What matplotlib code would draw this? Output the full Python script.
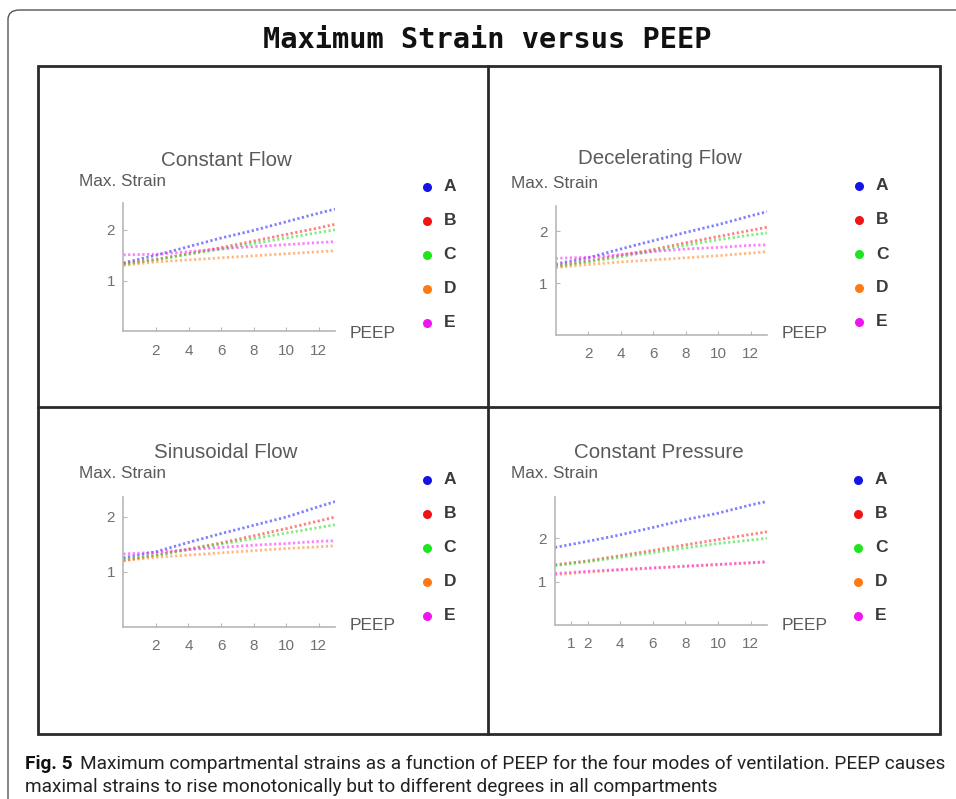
import matplotlib
matplotlib.use("Agg")
import matplotlib.pyplot as plt
from matplotlib.patches import FancyBboxPatch, Rectangle
from matplotlib.lines import Line2D

peep = [0, 2, 4, 6, 8, 10, 12, 13]
compartments = ['A', 'B', 'C', 'D', 'E']
colours = ['#2a2aff', '#ff2a2a', '#2ee02e', '#ff8a2a', '#ff2aff']
dot_colours = ['#1414e6', '#f01414', '#1ee61e', '#ff7a14', '#f014f0']

# Constant flow
cf_A = [1.35, 1.50, 1.67, 1.84, 1.99, 2.16, 2.33, 2.41]
cf_B = [1.33, 1.42, 1.53, 1.65, 1.78, 1.91, 2.04, 2.11]
cf_C = [1.32, 1.41, 1.52, 1.62, 1.73, 1.84, 1.95, 2.00]
cf_D = [1.30, 1.37, 1.41, 1.45, 1.49, 1.53, 1.57, 1.59]
cf_E = [1.51, 1.52, 1.57, 1.63, 1.67, 1.71, 1.75, 1.77]

# Decelerating flow
df_A = [1.37, 1.49, 1.66, 1.82, 1.98, 2.13, 2.30, 2.38]
df_B = [1.33, 1.43, 1.54, 1.65, 1.78, 1.90, 2.02, 2.08]
df_C = [1.32, 1.41, 1.51, 1.62, 1.73, 1.84, 1.93, 1.97]
df_D = [1.30, 1.36, 1.41, 1.45, 1.49, 1.53, 1.58, 1.61]
df_E = [1.48, 1.50, 1.55, 1.61, 1.66, 1.69, 1.73, 1.74]

# Sinusoidal flow
sf_A = [1.25, 1.36, 1.53, 1.69, 1.84, 1.99, 2.18, 2.27]
sf_B = [1.20, 1.30, 1.41, 1.52, 1.65, 1.78, 1.92, 1.99]
sf_C = [1.22, 1.29, 1.40, 1.50, 1.60, 1.70, 1.80, 1.85]
sf_D = [1.20, 1.26, 1.30, 1.34, 1.38, 1.42, 1.45, 1.47]
sf_E = [1.32, 1.35, 1.40, 1.44, 1.48, 1.51, 1.55, 1.56]

# Constant pressure
cp_A = [1.79, 1.93, 2.08, 2.25, 2.43, 2.58, 2.77, 2.85]
cp_B = [1.39, 1.48, 1.60, 1.72, 1.85, 1.97, 2.09, 2.15]
cp_C = [1.37, 1.46, 1.56, 1.67, 1.78, 1.88, 1.96, 2.00]
cp_D = [1.16, 1.22, 1.27, 1.31, 1.35, 1.39, 1.43, 1.45]
cp_E = [1.19, 1.24, 1.28, 1.32, 1.36, 1.40, 1.44, 1.46]

titles = ['Constant Flow', 'Decelerating Flow', 'Sinusoidal Flow', 'Constant Pressure']
series = [[cf_A, cf_B, cf_C, cf_D, cf_E],
          [df_A, df_B, df_C, df_D, df_E],
          [sf_A, sf_B, sf_C, sf_D, sf_E],
          [cp_A, cp_B, cp_C, cp_D, cp_E]]
xticks = [[2, 4, 6, 8, 10, 12]] * 3 + [[1, 2, 4, 6, 8, 10, 12]]
ylims = [(0, 2.53), (0, 2.48), (0, 2.36), (0, 2.96)]

W, H = 956, 799
def fx(px):
    return px / W
def fy(py):
    return 1 - py / H

# layout per panel, in pixels: axes box (left, right, bottom, top), title centre,
# y label, x label, legend column x and first row y
layout = [
    dict(box=(123.4, 335, 331.4, 203), title=(226, 160), ylab=(79, 182), xlab=(350, 333), leg=(426.5, 186.5)),
    dict(box=(555.6, 767, 335, 206.5), title=(660, 158), ylab=(511, 183), xlab=(782, 334), leg=(859, 186)),
    dict(box=(123.3, 335, 626.7, 496.7), title=(226, 453), ylab=(79, 473), xlab=(350, 625), leg=(426.5, 479.5)),
    dict(box=(555.0, 767, 625, 496.7), title=(659, 453), ylab=(511, 473), xlab=(782, 625), leg=(858, 479.5)),
]

fig = plt.figure(figsize=(9.56, 7.99), dpi=100)
fig.patch.set_facecolor('white')

txt_col = '#5a5a5a'
font = ['Liberation Sans', 'DejaVu Sans']

for i in range(4):
    lay = layout[i]
    l, r, b, t = lay['box']
    ax = fig.add_axes([fx(l), fy(b), fx(r) - fx(l), (b - t) / H])
    order = [0, 1, 2, 4, 3] if i < 3 else [0, 1, 2, 3, 4]
    for k in order:
        ax.plot(peep, series[i][k], color=colours[k], ls=(0, (0.8, 0.9)),
                lw=2.0, alpha=0.6, solid_capstyle='butt')
    ax.set_xlim(0, 13)
    ax.set_ylim(*ylims[i])
    ax.set_xticks(xticks[i])
    ax.set_yticks([1, 2])
    for s in ['top', 'right']:
        ax.spines[s].set_visible(False)
    for s in ['left', 'bottom']:
        ax.spines[s].set_color('#b8b8b8')
        ax.spines[s].set_linewidth(1.2)
    ax.tick_params(axis='x', direction='in', length=3, color='#b8b8b8',
                   labelcolor='#707070', labelsize=11, pad=9)
    ax.tick_params(axis='y', direction='in', length=3, color='#b8b8b8',
                   labelcolor='#707070', labelsize=11, pad=6)
    for lab in ax.get_xticklabels() + ax.get_yticklabels():
        lab.set_family(font)
    ax.patch.set_alpha(0)

    tx, ty = lay['title']
    fig.text(fx(tx), fy(ty), titles[i], ha='center', va='center',
             fontsize=14.8, color=txt_col, family=font)
    yx, yy = lay['ylab']
    fig.text(fx(yx), fy(yy), 'Max. Strain', ha='left', va='center',
             fontsize=12.3, color=txt_col, family=font)
    px_, py_ = lay['xlab']
    fig.text(fx(px_), fy(py_), 'PEEP', ha='left', va='center',
             fontsize=12.5, color=txt_col, family=font)

    lx, ly = lay['leg']
    for k, name in enumerate(compartments):
        yk = ly + k * 34
        fig.add_artist(Line2D([fx(lx)], [fy(yk)], marker='o', ms=6.5,
                              color=dot_colours[k], mec='none',
                              transform=fig.transFigure))
        fig.text(fx(lx + 17), fy(yk), name, ha='left', va='center',
                 fontsize=12.5, fontweight='bold', color='#3a3a3a', family=font)

# outer rounded frame (runs off the right and bottom edges)
frame = FancyBboxPatch((fx(8), fy(820)), fx(990) - fx(8), fy(10) - fy(820),
                       boxstyle='round,pad=0,rounding_size=0.012',
                       transform=fig.transFigure, fill=False,
                       ec='#555555', lw=1.0)
fig.add_artist(frame)

# panel grid
fig.add_artist(Rectangle((fx(38), fy(734)), fx(940) - fx(38), fy(66) - fy(734),
                         transform=fig.transFigure, fill=False, ec='#2a2a2a', lw=2.0))
fig.add_artist(Line2D([fx(487.7), fx(487.7)], [fy(66), fy(734)],
                      transform=fig.transFigure, color='#2a2a2a', lw=2.0))
fig.add_artist(Line2D([fx(38), fx(940)], [fy(406.7), fy(406.7)],
                      transform=fig.transFigure, color='#2a2a2a', lw=2.0))

fig.text(fx(487), fy(40), 'Maximum Strain versus PEEP', ha='center', va='center',
         fontsize=20.6, fontweight='bold', family=['DejaVu Sans Mono'], color='#111111')

# caption
cap_font = ['Roboto', 'Open Sans', 'DejaVu Sans']
fig.canvas.draw()
renderer = fig.canvas.get_renderer()
t1 = fig.text(fx(25), fy(764), 'Fig. 5', ha='left', va='center', fontsize=12.5,
              fontweight='bold', family=cap_font, color='#111111')
t2 = fig.text(0, fy(764),
              'Maximum compartmental strains as a function of PEEP for the four modes of ventilation. PEEP causes',
              ha='left', va='center', fontsize=12.5, family=cap_font, color='#222222')
# squeeze the caption so the first line ends where the reference does
size = 12.5
for _ in range(4):
    t1.set_fontsize(size)
    t2.set_fontsize(size)
    bb = t1.get_window_extent(renderer)
    t2.set_x(bb.x1 / W + fx(7))
    bb2 = t2.get_window_extent(renderer)
    size = size * (948 - fx(25) * W) / (bb2.x1 - fx(25) * W)
t1.set_fontsize(size)
t2.set_fontsize(size)
t2.set_x(t1.get_window_extent(renderer).x1 / W + fx(7))
fig.text(fx(25), fy(787),
         'maximal strains to rise monotonically but to different degrees in all compartments',
         ha='left', va='center', fontsize=size, family=cap_font, color='#222222')

fig.savefig('out.png', dpi=100)
